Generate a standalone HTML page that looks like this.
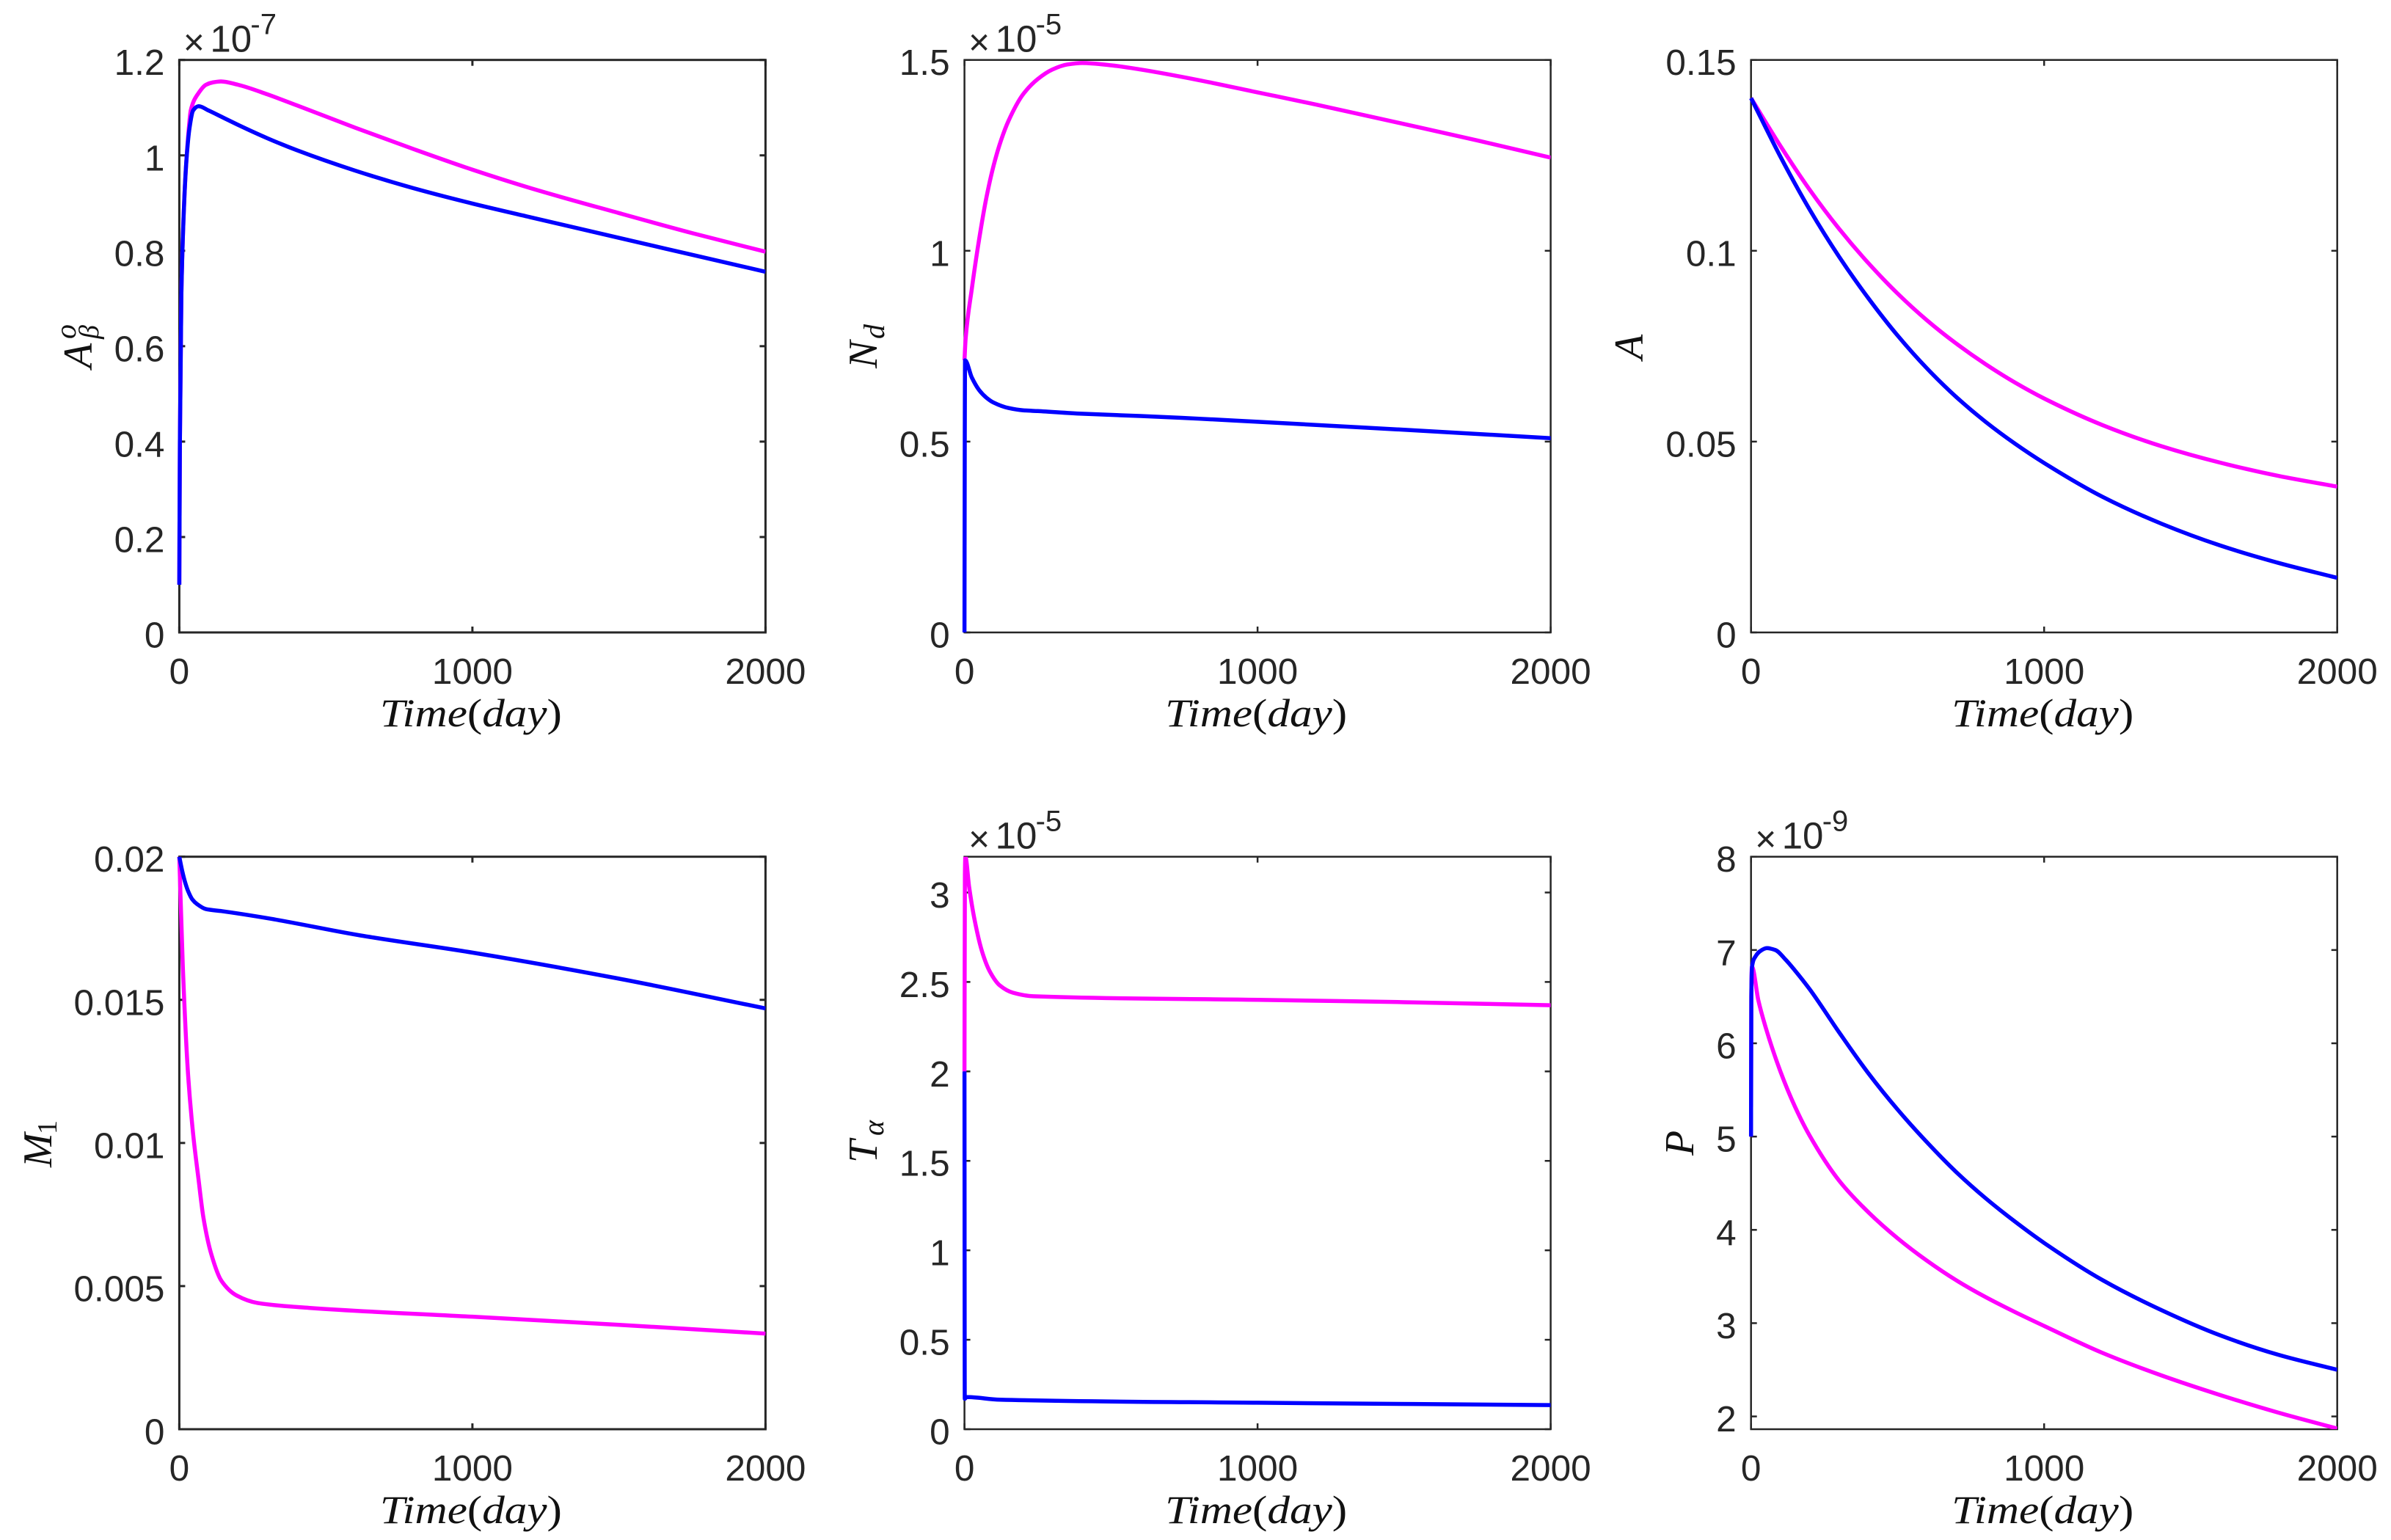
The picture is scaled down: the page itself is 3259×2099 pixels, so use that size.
<!DOCTYPE html>
<html lang="en">
<head>
<meta charset="utf-8">
<title>Six-panel time series</title>
<style>
html,body{margin:0;padding:0;background:#fff;width:3259px;height:2099px;overflow:hidden}
svg{display:block}
text{font-family:"Liberation Sans",sans-serif;fill:#262626}
.math{font-family:"Liberation Serif",serif;fill:#111}
</style>
</head>
<body>
<svg id="figure" xmlns="http://www.w3.org/2000/svg" width="3259" height="2099" viewBox="0 0 3259 2099">
<rect x="0" y="0" width="3259" height="2099" fill="#fff"/>
</svg>
<script>
// ---- Shared x axis ----
const xTicks = [0, 1000, 2000];

// ---- Panel: A-beta-o (x 1e-7) ----
const abetaYTicks = [0, 0.2, 0.4, 0.6, 0.8, 1, 1.2];
const abetaMagentaT = [0, 2, 7, 17.5, 25, 33, 39, 65, 91, 115, 142, 200, 300, 400, 600, 800, 1000, 1200, 1500, 1750, 2000];
const abetaMagentaV = [0.1, 0.4, 0.708, 0.914, 0.996, 1.06, 1.094, 1.13, 1.148, 1.153, 1.155, 1.148, 1.128, 1.105, 1.058, 1.013, 0.97, 0.931, 0.879, 0.837, 0.798];
const abetaBlueT = [0, 2, 7, 17.5, 25, 35, 47, 66, 100, 150, 200, 300, 400, 600, 800, 1000, 1200, 1500, 1750, 2000];
const abetaBlueV = [0.1, 0.4, 0.708, 0.914, 0.996, 1.058, 1.094, 1.103, 1.094, 1.079, 1.064, 1.036, 1.011, 0.968, 0.931, 0.899, 0.87, 0.827, 0.7915, 0.756];

// ---- Panel: N_d (x 1e-5) ----
const ndYTicks = [0, 0.5, 1, 1.5];
const ndMagentaT = [0, 4, 25, 50, 75, 100, 125, 150, 200, 250, 300, 350, 402, 500, 600, 800, 1000, 1200, 1500, 1750, 2000];
const ndMagentaV = [0.713, 0.77, 0.9, 1.03, 1.14, 1.225, 1.29, 1.34, 1.41, 1.45, 1.475, 1.488, 1.492, 1.486, 1.475, 1.447, 1.415, 1.383, 1.332, 1.289, 1.244];
const ndBlueT = [0, 1, 2, 25, 50, 75, 100, 150, 200, 250, 400, 600, 800, 1000, 1500, 2000];
const ndBlueV = [0, 0.5, 0.713, 0.668, 0.635, 0.615, 0.602, 0.588, 0.582, 0.58, 0.573, 0.567, 0.56, 0.552, 0.531, 0.509];

// ---- Panel: A ----
const aYTicks = [0, 0.05, 0.1, 0.15];
const aMagentaT = [0, 100, 200, 300, 400, 500, 600, 700, 800, 900, 1000, 1200, 1400, 1600, 1800, 2000];
const aMagentaV = [0.14, 0.1275, 0.116, 0.1058, 0.0968, 0.0888, 0.0818, 0.0757, 0.0703, 0.0655, 0.0613, 0.0543, 0.0488, 0.0445, 0.041, 0.0382];
const aBlueT = [0, 100, 200, 300, 400, 500, 600, 700, 800, 900, 1000, 1200, 1400, 1600, 1800, 2000];
const aBlueV = [0.14, 0.1247, 0.1108, 0.0985, 0.0876, 0.0778, 0.0692, 0.0617, 0.0552, 0.0495, 0.0444, 0.0355, 0.0285, 0.0228, 0.0182, 0.0143];

// ---- Panel: M_1 ----
const m1YTicks = [0, 0.005, 0.01, 0.015, 0.02];
const m1YLabels = ['0', '0.005', '0.01', '0.015', '0.02'];
const m1MagentaT = [0, 12, 30, 47, 65, 82, 109, 144, 196, 267, 442, 1000, 1495, 2000];
const m1MagentaV = [0.02, 0.01616, 0.01238, 0.01033, 0.00878, 0.00741, 0.00612, 0.00518, 0.00467, 0.00441, 0.00424, 0.00393, 0.00365, 0.00334];
const m1BlueT = [0, 10, 20, 30, 45, 60, 91, 144, 302, 618, 1000, 1495, 2000];
const m1BlueV = [0.02, 0.0195, 0.0191, 0.0188, 0.0185, 0.01835, 0.01817, 0.0181, 0.01785, 0.01725, 0.01665, 0.01575, 0.0147];

// ---- Panel: T_alpha (x 1e-5) ----
const tYTicks = [0, 0.5, 1, 1.5, 2, 2.5, 3];
const tMagentaT = [0, 1.5, 3, 16, 33, 60, 86, 121, 165, 235, 1000, 1500, 2000];
const tMagentaV = [2, 3.1, 3.2, 3.03, 2.86, 2.67, 2.56, 2.48, 2.44, 2.42, 2.4, 2.387, 2.37];
const tBlueT = [0, 1, 7, 121, 1000, 2000];
const tBlueV = [2, 0.17, 0.18, 0.165, 0.148, 0.135];

// ---- Panel: P (x 1e-9) ----
const pYTicks = [2, 3, 4, 5, 6, 7, 8];
const pMagentaT = [0, 1, 3, 25, 50, 100, 150, 200, 300, 400, 500, 600, 700, 800, 900, 1000, 1200, 1400, 1600, 1800, 2000];
const pMagentaV = [5, 6.5, 6.82, 6.46, 6.17, 5.7, 5.32, 5.01, 4.53, 4.19, 3.91, 3.67, 3.46, 3.28, 3.12, 2.97, 2.68, 2.44, 2.23, 2.04, 1.87];
const pBlueT = [0, 1, 3.4, 15, 32, 54, 83, 117, 150, 200, 300, 400, 500, 600, 700, 800, 900, 1000, 1200, 1400, 1600, 1800, 2000];
const pBlueV = [5, 6.5, 6.82, 6.93, 6.99, 7.02, 7.0, 6.9, 6.78, 6.58, 6.12, 5.68, 5.29, 4.94, 4.62, 4.34, 4.09, 3.86, 3.46, 3.14, 2.87, 2.66, 2.5];

// ---- Layout (separate from the data) ----
const NS = 'http://www.w3.org/2000/svg';
const svg = document.getElementById('figure');
const AXIS = '#262626';
const colX = [244.4, 1314.6, 2386.7];
const colLW = [3, 2.5, 2.5];
const rowY = [81.7, 1167.7];
const PW = 799, PH = 780.3;

const panels = [
 {id:'abeta', col:0, row:0, ymin:0, ymax:1.2, yt:abetaYTicks, exp:'-7',
  mT:abetaMagentaT, mV:abetaMagentaV, bT:abetaBlueT, bV:abetaBlueV,
  lx:125, ly:502, label:[['A',0,0,56,'italic'],['o',40,-22,40,'italic'],['β',40,9,38,'italic']]},
 {id:'nd', col:1, row:0, ymin:0, ymax:1.5, yt:ndYTicks, exp:'-5',
  mT:ndMagentaT, mV:ndMagentaV, bT:ndBlueT, bV:ndBlueV,
  lx:1195, ly:502, label:[['N',0,0,56,'italic'],['d',40,10,40,'italic']]},
 {id:'a', col:2, row:0, ymin:0, ymax:0.15, yt:aYTicks, exp:null,
  mT:aMagentaT, mV:aMagentaV, bT:aBlueT, bV:aBlueV,
  lx:2239, ly:490, label:[['A',0,0,56,'italic']]},
 {id:'m1', col:0, row:1, ymin:0, ymax:0.02, yt:m1YTicks, yl:m1YLabels, exp:null,
  mT:m1MagentaT, mV:m1MagentaV, bT:m1BlueT, bV:m1BlueV,
  lx:70, ly:1591, label:[['M',0,0,56,'italic'],['1',45,7,38,'normal']]},
 {id:'talpha', col:1, row:1, ymin:0, ymax:3.2, yt:tYTicks, exp:'-5',
  mT:tMagentaT, mV:tMagentaV, bT:tBlueT, bV:tBlueV,
  lx:1195, ly:1585, label:[['T',0,0,56,'italic'],['α',37,9,40,'italic']]},
 {id:'p', col:2, row:1, ymin:1.863, ymax:8, yt:pYTicks, exp:'-9',
  mT:pMagentaT, mV:pMagentaV, bT:pBlueT, bV:pBlueV,
  lx:2308, ly:1575, label:[['P',0,0,56,'italic']]}
];

function mk(tag, attrs, parent) {
  const el = document.createElementNS(NS, tag);
  for (const k in attrs) el.setAttribute(k, attrs[k]);
  parent.appendChild(el);
  return el;
}

// Monotone cubic path through the data points
function curve(xs, ys) {
  const n = xs.length, m = [], s = [];
  for (let i = 0; i < n - 1; i++) s.push((ys[i+1]-ys[i]) / (xs[i+1]-xs[i]));
  m[0] = s[0];
  m[n-1] = s[n-2];
  for (let i = 1; i < n - 1; i++) {
    if (s[i-1] * s[i] <= 0) m[i] = 0;
    else {
      const h0 = xs[i]-xs[i-1], h1 = xs[i+1]-xs[i];
      m[i] = 3*(h0+h1) / ((2*h1+h0)/s[i-1] + (h1+2*h0)/s[i]);
    }
  }
  let d = 'M' + xs[0].toFixed(2) + ' ' + ys[0].toFixed(2);
  for (let i = 0; i < n - 1; i++) {
    const h = (xs[i+1]-xs[i]) / 3;
    d += 'C' + (xs[i]+h).toFixed(2) + ' ' + (ys[i]+m[i]*h).toFixed(2) + ' ' +
         (xs[i+1]-h).toFixed(2) + ' ' + (ys[i+1]-m[i+1]*h).toFixed(2) + ' ' +
         xs[i+1].toFixed(2) + ' ' + ys[i+1].toFixed(2);
  }
  return d;
}

panels.forEach(function (p) {
  const L = colX[p.col], T = rowY[p.row], R = L + PW, B = T + PH, lw = colLW[p.col];
  const xScale = function (t) { return L + (t / 2000) * PW; };
  const yScale = function (v) { return B - ((v - p.ymin) / (p.ymax - p.ymin)) * PH; };

  const g = mk('g', {}, svg);
  
  

  const clip = mk('clipPath', {id: 'clip-' + p.id}, g);
  mk('rect', {x: L - 3, y: T, width: PW + 3, height: PH}, clip);

  // axes box
  const box = mk('rect', {x: L, y: T, width: PW, height: PH, fill: 'none', stroke: AXIS, 'stroke-width': lw}, g);
  
  

  // x ticks + labels
  xTicks.forEach(function (t) {
    const x = xScale(t);
    const t1 = mk('line', {x1: x, x2: x, y1: B, y2: B - 8, stroke: AXIS, 'stroke-width': lw}, g);
    
    
    const t2 = mk('line', {x1: x, x2: x, y1: T, y2: T + 8, stroke: AXIS, 'stroke-width': lw}, g);
    
    
    const lab = mk('text', {x: x, y: B + 70, 'text-anchor': 'middle', 'font-size': 49.5}, g);
    
    
    lab.textContent = String(t);
  });

  // y ticks + labels
  p.yt.forEach(function (v, i) {
    const y = yScale(v);
    const t1 = mk('line', {x1: L, x2: L + 8, y1: y, y2: y, stroke: AXIS, 'stroke-width': lw}, g);
    
    
    const t2 = mk('line', {x1: R, x2: R - 8, y1: y, y2: y, stroke: AXIS, 'stroke-width': lw}, g);
    
    
    const lab = mk('text', {x: L - 20, y: y + 20.5, 'text-anchor': 'end', 'font-size': 49.5}, g);
    
    
    lab.textContent = p.yl ? p.yl[i] : String(v);
  });

  // series
  const mPath = mk('path', {d: curve(p.mT.map(xScale), p.mV.map(yScale)), fill: 'none', stroke: '#ff00ff',
    'stroke-width': 5.5, 'stroke-linejoin': 'round', 'clip-path': 'url(#clip-' + p.id + ')'}, g);
  
  
  const bPath = mk('path', {d: curve(p.bT.map(xScale), p.bV.map(yScale)), fill: 'none', stroke: '#0000ff',
    'stroke-width': 5.5, 'stroke-linejoin': 'round', 'clip-path': 'url(#clip-' + p.id + ')'}, g);
  
  

  // exponent
  if (p.exp) {
    const ex = mk('g', {}, g);
    
    
    mk('text', {x: L + 20, y: T - 7, 'text-anchor': 'middle', 'font-size': 50}, ex).textContent = '×';
    mk('text', {x: L + 42, y: T - 11, 'font-size': 51}, ex).textContent = '10';
    mk('text', {x: L + 97, y: T - 35, 'font-size': 40}, ex).textContent = p.exp;
  }

  // x label
  const xl = mk('text', {x: (L + R) / 2 - 2, y: B + 128, 'text-anchor': 'middle', 'font-size': 54,
    textLength: 248, lengthAdjust: 'spacingAndGlyphs', class: 'math'}, g);
  
  
  mk('tspan', {'font-style': 'italic'}, xl).textContent = 'Time';
  mk('tspan', {}, xl).textContent = '(';
  mk('tspan', {'font-style': 'italic'}, xl).textContent = 'day';
  mk('tspan', {}, xl).textContent = ')';

  // y label
  const yl = mk('g', {transform: 'translate(' + p.lx + ' ' + p.ly + ') rotate(-90)'}, g);
  
  
  p.label.forEach(function (s) {
    mk('text', {x: s[1], y: s[2], 'font-size': s[3], 'font-style': s[4], class: 'math'}, yl).textContent = s[0];
  });
});
</script>
</body>
</html>
